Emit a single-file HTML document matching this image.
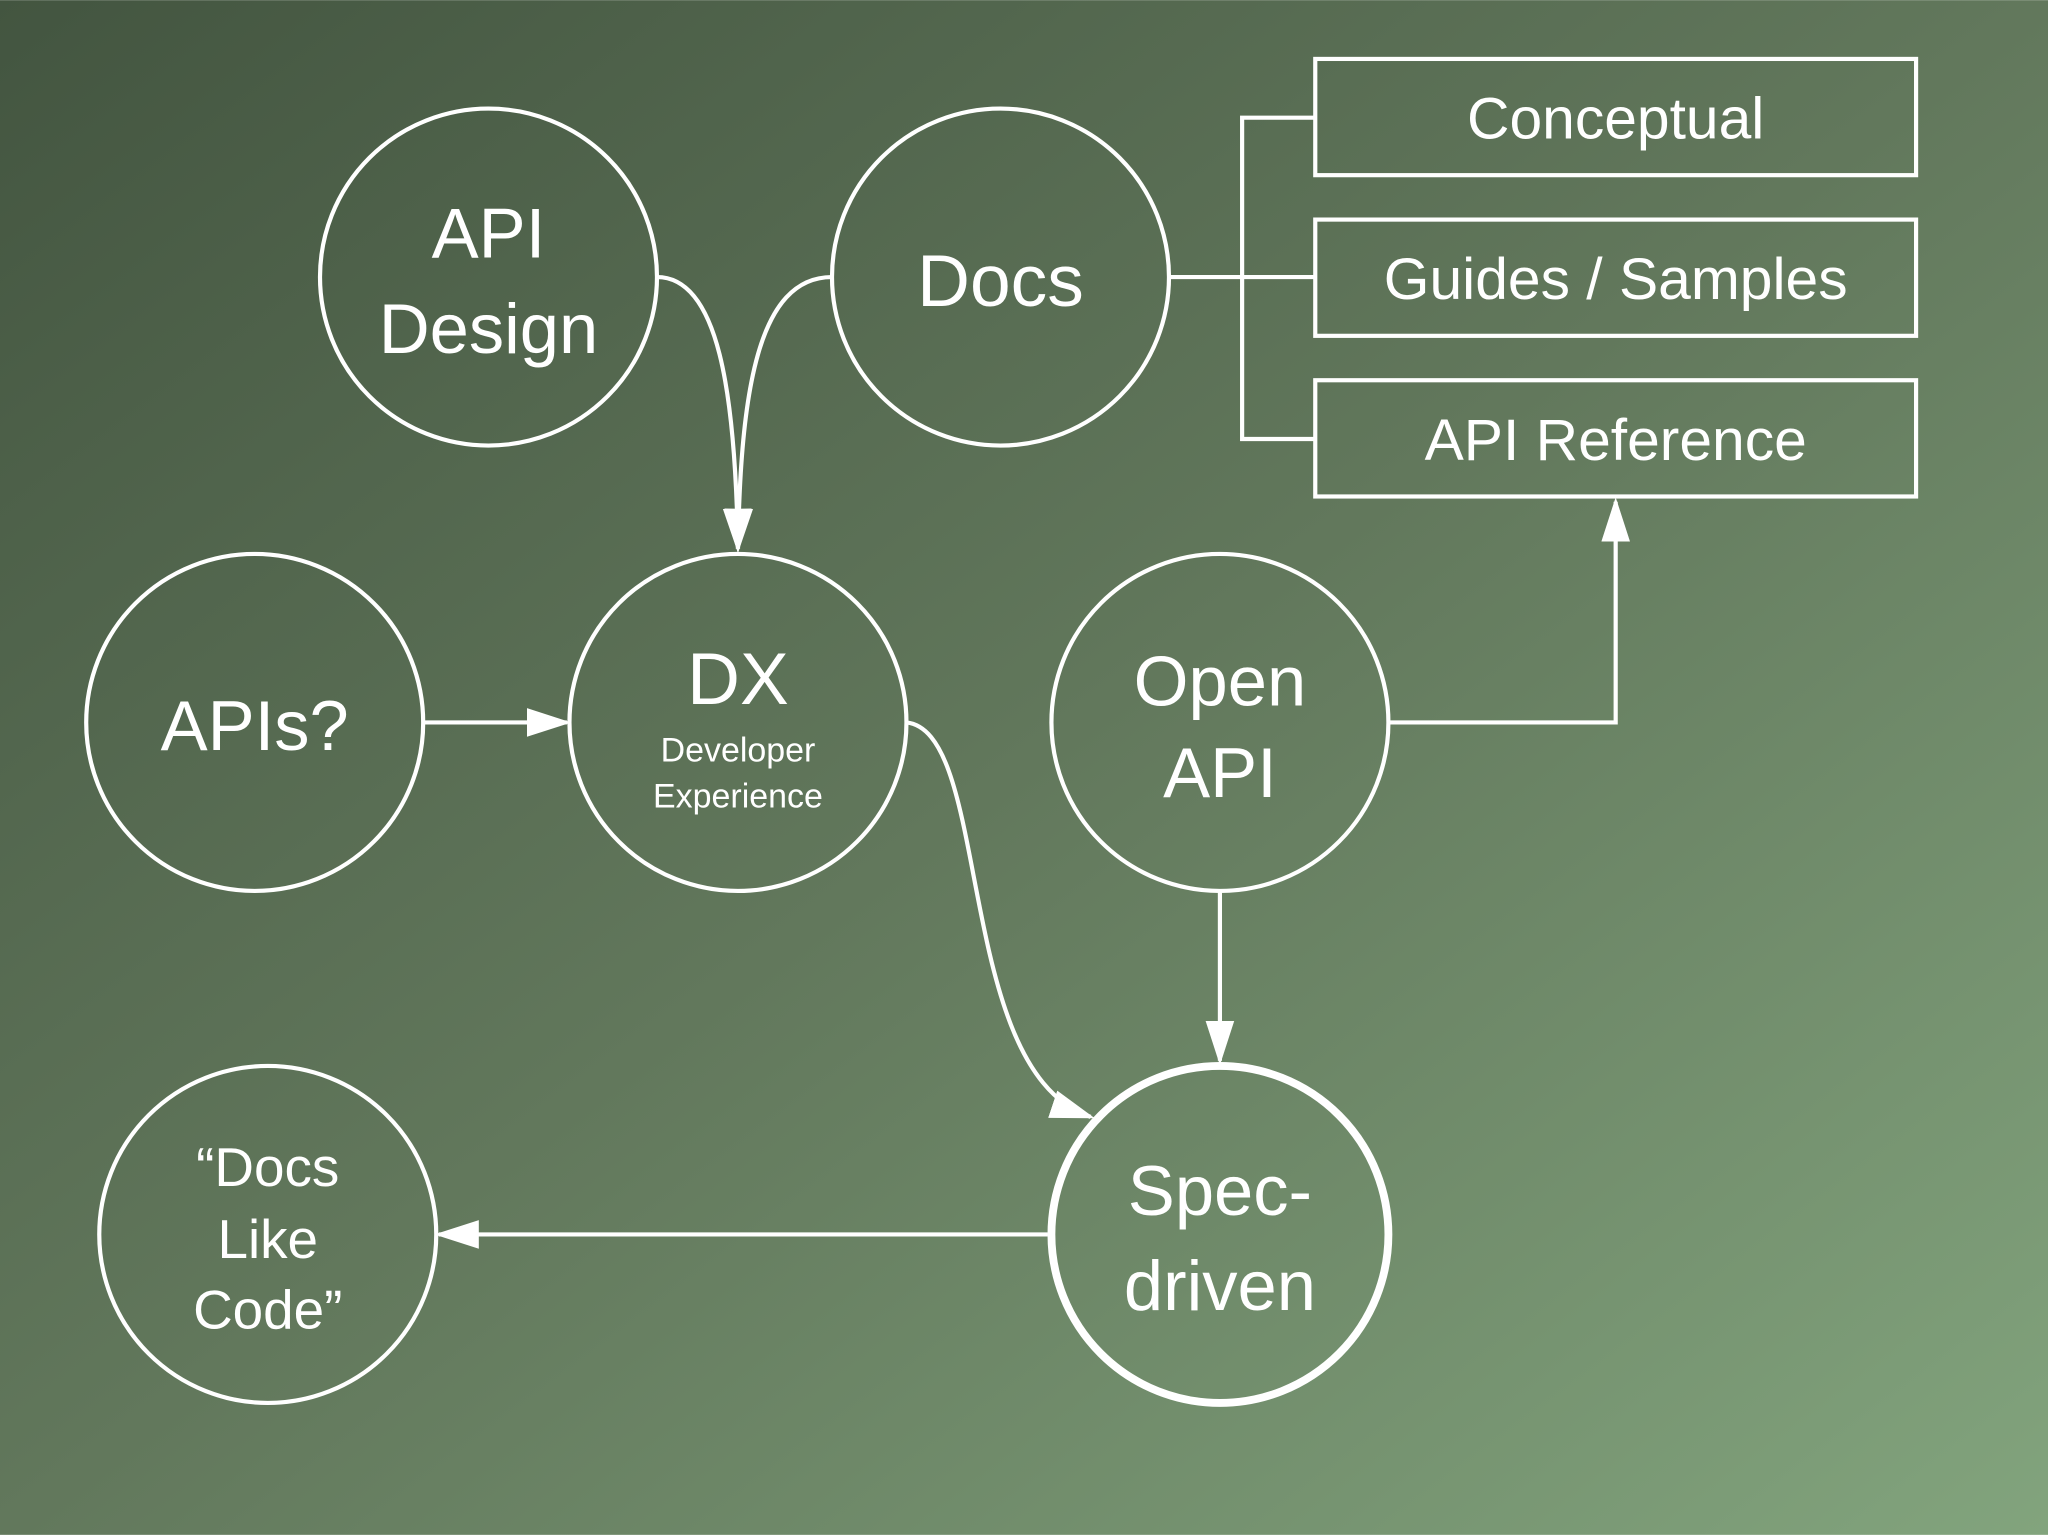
<!DOCTYPE html>
<html><head><meta charset="utf-8"><style>
html,body{margin:0;padding:0;width:2048px;height:1535px;overflow:hidden;}
svg{display:block;}
text{font-family:"Liberation Sans",sans-serif;fill:#fff;text-anchor:middle;}
</style></head><body>
<svg width="2048" height="1535" viewBox="0 0 1568 1175" xmlns="http://www.w3.org/2000/svg">
<defs>
<linearGradient id="bg" x1="0" y1="0" x2="1" y2="1">
<stop offset="0" stop-color="#435540"/>
<stop offset="0.5" stop-color="#62785c"/>
<stop offset="1" stop-color="#82a47d"/>
</linearGradient>
<marker id="ar2" viewBox="0 0 10 10" refX="9" refY="5" markerWidth="34" markerHeight="22" markerUnits="userSpaceOnUse" orient="auto" preserveAspectRatio="none">
<path d="M0,0 L10,5 L0,10 z" fill="#fff"/>
</marker>
</defs>
<rect width="1568" height="1175" fill="url(#bg)"/>
<g fill="none" stroke="#fff" stroke-width="3.2">
<circle cx="374" cy="212" r="129"/>
<circle cx="766" cy="212" r="129"/>
<circle cx="195" cy="553" r="129"/>
<circle cx="565" cy="553" r="129"/>
<circle cx="934" cy="553" r="129"/>
<circle cx="205" cy="945" r="129"/>
<circle cx="934" cy="945" r="129" stroke-width="6"/>
<rect x="1007" y="45" width="460" height="89"/>
<rect x="1007" y="168" width="460" height="89"/>
<rect x="1007" y="291" width="460" height="89"/>
<path d="M1007,90 H951 V336 H1007 M951,212 H1007 M895,212 H951"/>
<path d="M503,212 C550,212 563,300 565,420" marker-end="url(#ar2)"/>
<path d="M637,212 C580,212 567,300 565,420" marker-end="url(#ar2)"/>
<path d="M325,553 H434" marker-end="url(#ar2)"/>
<path d="M694,553 C760,560 730,820 835,855" marker-end="url(#ar2)"/>
<path d="M934,683 V812" marker-end="url(#ar2)"/>
<path d="M1063,553 H1237 V384" marker-end="url(#ar2)"/>
<path d="M802,945 H336" marker-end="url(#ar2)"/>
</g>
<text x="374" y="197" font-size="54">API</text>
<text x="374" y="270" font-size="54">Design</text>
<text x="766" y="234" font-size="56">Docs</text>
<text x="195" y="574" font-size="54">APIs?</text>
<text x="565" y="539" font-size="56">DX</text>
<text x="565" y="583" font-size="26">Developer</text>
<text x="565" y="618" font-size="26">Experience</text>
<text x="934" y="540" font-size="54">Open</text>
<text x="934" y="610" font-size="54">API</text>
<text x="205" y="908" font-size="42">“Docs</text>
<text x="205" y="963" font-size="42">Like</text>
<text x="205" y="1017" font-size="42">Code”</text>
<text x="934" y="930" font-size="54">Spec-</text>
<text x="934" y="1003" font-size="54">driven</text>
<text x="1237" y="106" font-size="45">Conceptual</text>
<text x="1237" y="229" font-size="45">Guides / Samples</text>
<text x="1237" y="352" font-size="45">API Reference</text>
</svg>
</body></html>
